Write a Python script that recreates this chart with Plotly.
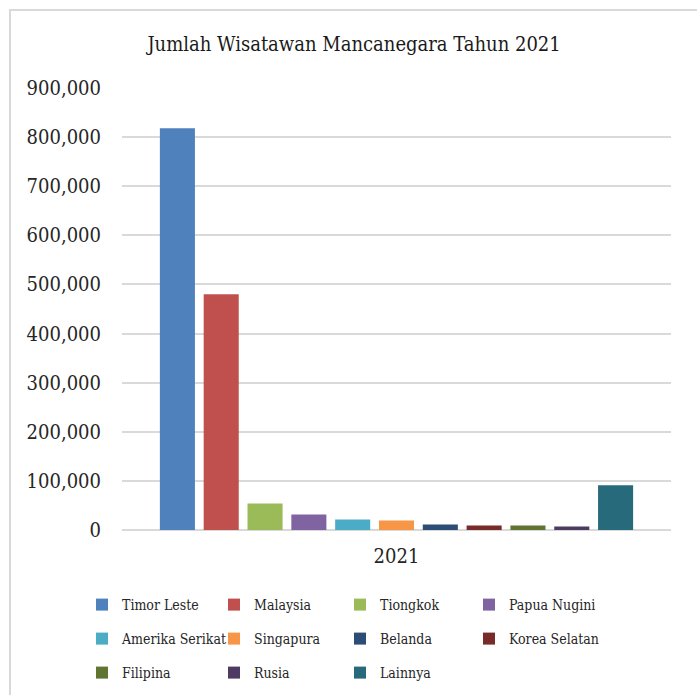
import plotly.graph_objects as go

# Foreign tourist arrivals in 2021, by country of origin
year = ["2021"]
countries = ["Timor Leste", "Malaysia", "Tiongkok", "Papua Nugini", "Amerika Serikat",
             "Singapura", "Belanda", "Korea Selatan", "Filipina", "Rusia", "Lainnya"]
visitors = [818000, 480000, 54000, 31500, 21500, 19500, 11000, 9000, 9000, 7000, 91000]
colors = ["#4F81BD", "#C0504D", "#9BBB59", "#8064A2", "#4BACC6", "#F79646",
          "#2C4D75", "#772C2A", "#5F7530", "#4D3B62", "#276A7C"]
y_ticks = [0, 100000, 200000, 300000, 400000, 500000, 600000, 700000, 800000, 900000]

FONT = "DejaVu Serif Condensed, Liberation Serif, serif"

# Plot area in pixels (used to place the legend grid below it)
L, R, T, B = 122, 26, 88, 165
W, H = 697, 695
PW, PH = W - L - R, H - T - B

# Legend grid: 4 columns x 3 rows, each entry gets its own legend box
col_px = [82, 214, 340, 469]
row_top_px = [589, 623, 657]
PER_ROW = 4

fig = go.Figure()
legend_layout = {}
for i, (name, val, col) in enumerate(zip(countries, visitors, colors)):
    lid = "legend" if i == 0 else f"legend{i + 1}"
    fig.add_trace(go.Bar(x=year, y=[val], name=name,
                         marker=dict(color=col, line=dict(width=0)),
                         legend=lid))
    r, c = divmod(i, PER_ROW)
    legend_layout[lid] = dict(
        orientation="h", xanchor="left", yanchor="top",
        x=(col_px[c] - L) / PW, y=-(row_top_px[r] - (T + PH)) / PH,
        itemwidth=30, bgcolor="rgba(0,0,0,0)",
        font=dict(family=FONT, size=14, color="#262626"),
    )

fig.update_layout(
    width=W, height=H,
    margin=dict(l=L, r=R, t=T, b=B, autoexpand=False),
    paper_bgcolor="white", plot_bgcolor="white",
    barmode="group", bargap=0.122, bargroupgap=0.2,
    font=dict(family=FONT, color="#262626"),
    title=dict(text="Jumlah Wisatawan Mancanegara Tahun 2021",
               x=0.508, xanchor="center", xref="container",
               y=1 - 44 / H, yanchor="middle", yref="container",
               font=dict(family=FONT, size=20, color="#1a1a1a")),
    showlegend=True,
    **legend_layout,
)
fig.update_yaxes(range=[0, 900000], tickvals=y_ticks, tickformat=",",
                 showgrid=True, gridcolor="#D9D9D9", gridwidth=1.5,
                 zeroline=True, zerolinecolor="#D9D9D9", zerolinewidth=1.5,
                 showline=False, ticks="", ticklabelstandoff=20,
                 tickfont=dict(family=FONT, size=20, color="#262626"))
fig.update_xaxes(showline=False, ticks="", ticklabelstandoff=12,
                 tickfont=dict(family=FONT, size=20, color="#262626"))

# Light outline framing the whole chart
fig.add_shape(type="rect", xref="paper", yref="paper",
              x0=(10 - L) / PW, x1=1.3, y0=-1.0, y1=1 + (T - 10) / PH,
              line=dict(color="#D9D9D9", width=2), fillcolor="rgba(0,0,0,0)", layer="below")

fig.write_html("out.html")
